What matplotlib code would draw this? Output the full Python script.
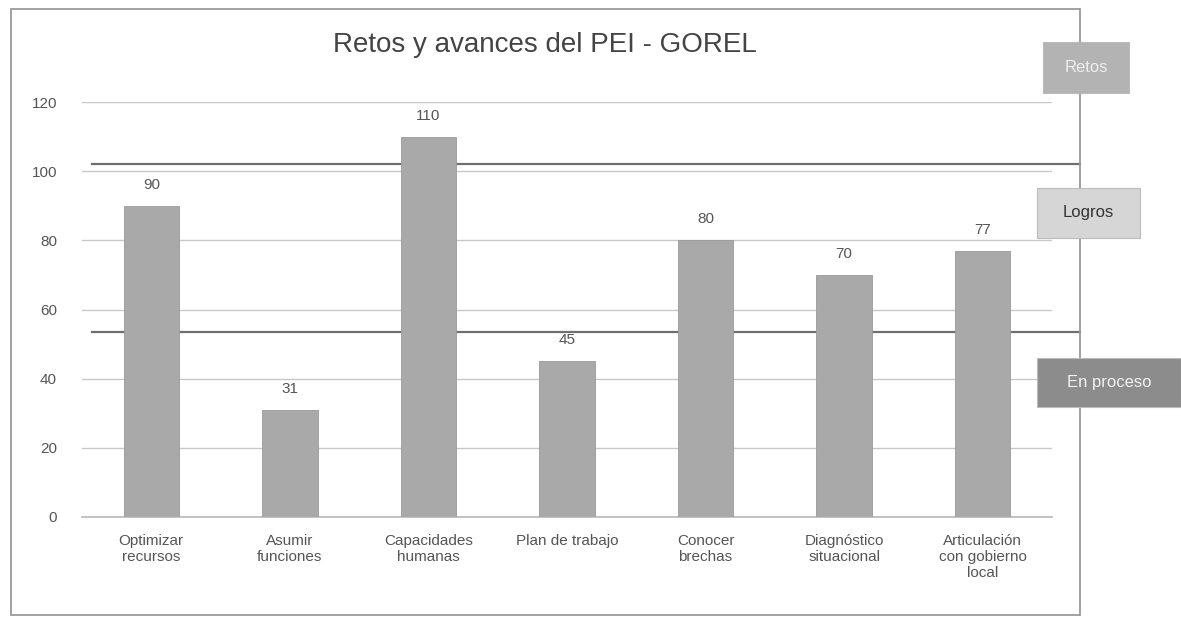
import matplotlib
matplotlib.use("Agg")
import matplotlib.pyplot as plt
from matplotlib.patches import Rectangle
import matplotlib.transforms as mtransforms

# ==============================================================================
# DATA
# ==============================================================================
categories = [
    "Optimizar\nrecursos",
    "Asumir\nfunciones",
    "Capacidades\nhumanas",
    "Plan de trabajo",
    "Conocer\nbrechas",
    "Diagnóstico\nsituacional",
    "Articulación\ncon gobierno\nlocal",
]
values = [90, 31, 110, 45, 80, 70, 77]
y_ticks = [0, 20, 40, 60, 80, 100, 120]
thresholds = [102, 53.5]          # dark reference lines
legend_labels = ["Retos", "Logros", "En proceso"]
title = "Retos y avances del PEI - GOREL"

# ==============================================================================
# FIGURE
# ==============================================================================
plt.rcParams["font.family"] = ["Liberation Sans", "DejaVu Sans"]
W, H = 1181, 626
fig = plt.figure(figsize=(W / 100, H / 100), dpi=100)

def fx(px):
    return px / W

def fy(py):
    return 1 - py / H

# plot area: x 82..1052 px, y 517 (0) .. 102 (120)
ax = fig.add_axes([fx(82), fy(517), fx(1052) - fx(82), fy(102) - fy(517)])

xs = range(len(categories))
ax.bar(xs, values, width=0.4, color="#a9a9a9", edgecolor="#9a9a9a",
       linewidth=0.6, zorder=3)
for x, v in zip(xs, values):
    ax.annotate(str(v), (x, v), xytext=(0, 10), textcoords="offset points",
                ha="center", va="bottom", fontsize=11, color="#555555")

ax.set_xlim(-0.5, len(categories) - 0.5)
ax.set_ylim(0, 120)
ax.set_yticks(y_ticks)
ax.set_xticks(list(xs))
ax.set_xticklabels(categories, fontsize=11, color="#555555", linespacing=1.2)
ax.tick_params(axis="y", length=0, pad=18, labelsize=11, labelcolor="#555555")
ax.tick_params(axis="x", length=0, pad=12)
for s in ax.spines.values():
    s.set_visible(False)
ax.yaxis.grid(True, color="#c8c8c8", lw=1.0, zorder=0)
ax.set_axisbelow(True)
ax.axhline(0, color="#b8b8b8", lw=1.2, zorder=1, clip_on=False)

# dark reference lines, running past the plot area to the frame
trans = mtransforms.blended_transform_factory(ax.transAxes, ax.transData)
x0 = (92 - 82) / 970
x1 = (1080 - 82) / 970
for t in thresholds:
    ax.plot([x0, x1], [t, t], color="#6e6e6e", lw=1.6, transform=trans,
            clip_on=False, zorder=2)

# title
fig.text(fx(545), fy(45), title, ha="center", va="center",
         fontsize=20, color="#444444")

# outer frame
fig.patches.append(Rectangle((fx(11), fy(615)), fx(1080) - fx(11), fy(9) - fy(615),
                             transform=fig.transFigure, fill=False,
                             edgecolor="#9a9a9a", lw=1.3))

# side labels (legend-like boxes)
boxes = [
    # (x_left, y_top, x_right, y_bottom, face, text colour)
    (1043, 42, 1129, 93, "#b3b3b3", "#eeeeee"),
    (1037, 188, 1140, 238, "#d6d6d6", "#333333"),
    (1037, 358, 1181, 407, "#8c8c8c", "#f2f2f2"),
]
for (l, t, r, b, face, tc), lab in zip(boxes, legend_labels):
    fig.patches.append(Rectangle((fx(l), fy(b)), fx(r) - fx(l), fy(t) - fy(b),
                                 transform=fig.transFigure, facecolor=face,
                                 edgecolor="#bbbbbb", lw=0.8, zorder=5))
    fig.text(fx((l + r) / 2), fy((t + b) / 2), lab, ha="center", va="center",
             fontsize=12, color=tc, zorder=6)

fig.savefig("out.png", dpi=100, facecolor="white")
